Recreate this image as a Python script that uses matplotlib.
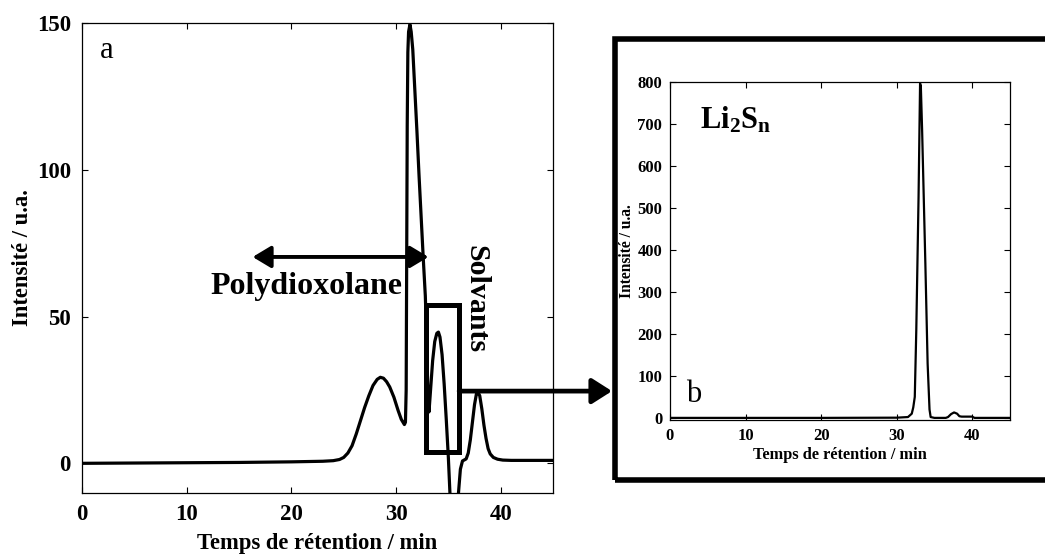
import numpy as np
import matplotlib
matplotlib.use("Agg")
import matplotlib.pyplot as plt
from matplotlib.patches import Rectangle

plt.rcParams['font.family'] = ['Liberation Serif', 'DejaVu Serif']
plt.rcParams['mathtext.fontset'] = 'custom'
plt.rcParams['mathtext.rm'] = 'Liberation Serif'
plt.rcParams['mathtext.bf'] = 'Liberation Serif:bold'

# chromatogramme principal (a)
t_a = [0, 5, 10, 15, 20, 23, 24, 24.6, 25.0, 25.4, 25.8, 26.2, 26.6, 27.0, 27.4, 27.8,
       28.2, 28.5, 28.8, 29.1, 29.4, 29.8, 30.2, 30.5, 30.8, 30.9, 30.97, 31.02, 31.07,
       31.13, 31.2, 31.33, 31.45, 31.6, 31.8, 32.0, 32.2, 32.4, 32.6, 32.8, 32.95, 33.05,
       33.15, 33.3, 33.5, 33.7, 33.9, 34.05, 34.2, 34.4, 34.6, 34.8, 35.0, 35.15, 35.5,
       35.97, 36.15, 36.35, 36.7, 36.9, 37.1, 37.3, 37.5, 37.7, 37.8, 38.0, 38.2, 38.4,
       38.6, 38.8, 39.0, 39.3, 39.7, 40.2, 41, 45]
i_a = [0.0, 0.1, 0.2, 0.3, 0.5, 0.7, 0.9, 1.3, 2.0, 3.5, 6, 10, 14.5, 19, 23, 26.5,
       28.6, 29.3, 29.0, 27.8, 26.0, 22.5, 18, 15, 13.2, 14, 25, 70, 115,
       140, 147, 149.5, 147, 141, 127, 113, 98, 84, 70, 57, 40, 22,
       17.5, 25, 35, 41.5, 44.3, 44.7, 43, 37, 27, 15, 2, -10, -25,
       -10, -2, 0.8, 1.5, 3.5, 8, 14, 20, 24, 24.5, 23, 18.5, 13,
       8.5, 5, 3.2, 2, 1.4, 1.1, 1.0, 1.0]

# encart (b) : Li2Sn
t_b = [0, 10, 20, 30, 31.5, 32.0, 32.2, 32.4, 32.6, 32.9, 33.1, 33.2, 33.37, 33.8,
       34.1, 34.35, 34.5, 35, 36.5, 36.8, 37.2, 37.6, 38.0, 38.3, 38.6, 40.0, 40.3, 45]
i_b = [0, 0, 0, 0.5, 2, 10, 25, 50, 209, 526, 796, 790, 685, 367,
       129, 20, 2, 0, 0, 2, 9, 13, 10, 4, 3, 3, 0, 0]

xticks = [0, 10, 20, 30, 40]
yticks_a = [0, 50, 100, 150]
yticks_b = [0, 100, 200, 300, 400, 500, 600, 700, 800]

fig = plt.figure(figsize=(10.45, 5.54), dpi=100)

ax = fig.add_axes([0.0785, 0.1107, 0.4507, 0.8478])
ax.plot(t_a, i_a, color='k', lw=2.3)
ax.set_xlim(0, 45)
ax.set_ylim(-10, 150)
ax.set_xticks(xticks)
ax.set_yticks(yticks_a)
ax.tick_params(direction='in', length=4.5, width=0.8, top=True, right=True,
               labelsize=16.5, pad=8)
for lab in ax.get_xticklabels() + ax.get_yticklabels():
    lab.set_fontweight('bold')
for sp in ax.spines.values():
    sp.set_linewidth(0.9)
ax.set_xlabel('Temps de rétention / min', fontsize=16.3, fontweight='bold', va='center')
ax.xaxis.set_label_coords(0.5, -0.1086)
ax.set_ylabel('Intensité / u.a.', fontsize=16.3, fontweight='bold', va='center')
ax.yaxis.set_label_coords(-0.127, 0.5)

ax.text(2.4, 138, 'a', fontsize=22, ha='center', va='baseline')
ax.annotate('', xy=(16.3, 70.3), xytext=(33.1, 70.3),
            arrowprops=dict(arrowstyle='<|-|>,head_length=0.5,head_width=0.3',
                            lw=2.8, color='k', mutation_scale=22,
                            shrinkA=0, shrinkB=0))
ax.text(21.4, 60.1, 'Polydioxolane', fontsize=23, fontweight='bold',
        ha='center', va='center')
ax.text(37.6, 55.8, 'Solvants', fontsize=21.5, fontweight='bold', rotation=-90,
        ha='center', va='center')
ax.add_patch(Rectangle((32.83, 3.85), 36.03 - 32.83, 53.8 - 3.85, fill=False,
                       lw=3.6, ec='k', clip_on=False))
ax.annotate('', xy=(612 / 1045, 24.6), xycoords=('figure fraction', 'data'),
            xytext=(36.03, 24.6), textcoords='data', annotation_clip=False,
            arrowprops=dict(arrowstyle='-|>,head_length=0.55,head_width=0.35',
                            lw=3.4, color='k', mutation_scale=22,
                            shrinkA=0, shrinkB=0))

# cadre de l'encart
fig.add_artist(Rectangle((614.5 / 1045, 1 - 480 / 554), 0.5, (480 - 39) / 554,
                         transform=fig.transFigure, fill=False, lw=4, ec='k'))

axb = fig.add_axes([0.6411, 0.2419, 0.3254, 0.6106])
axb.plot(t_b, i_b, color='k', lw=1.6)
axb.set_xlim(0, 45)
axb.set_ylim(-5, 800)
axb.set_xticks(xticks)
axb.set_yticks(yticks_b)
axb.tick_params(direction='in', length=4, width=0.8, top=True, right=True,
                labelsize=12, pad=5.5)
for lab in axb.get_xticklabels() + axb.get_yticklabels():
    lab.set_fontweight('bold')
for sp in axb.spines.values():
    sp.set_linewidth(0.9)
axb.set_xlabel('Temps de rétention / min', fontsize=11.8, fontweight='bold', va='center')
axb.xaxis.set_label_coords(0.5, -0.1035)
axb.set_ylabel('Intensité / u.a.', fontsize=11.2, fontweight='bold', va='center')
axb.yaxis.set_label_coords(-0.127, 0.5)
axb.text(4.0, 689, r'$\mathbf{Li_2S_n}$', fontsize=22, ha='left', va='baseline')
axb.text(3.2, 38, 'b', fontsize=22, ha='center', va='baseline')

fig.savefig('out.png', dpi=100)
